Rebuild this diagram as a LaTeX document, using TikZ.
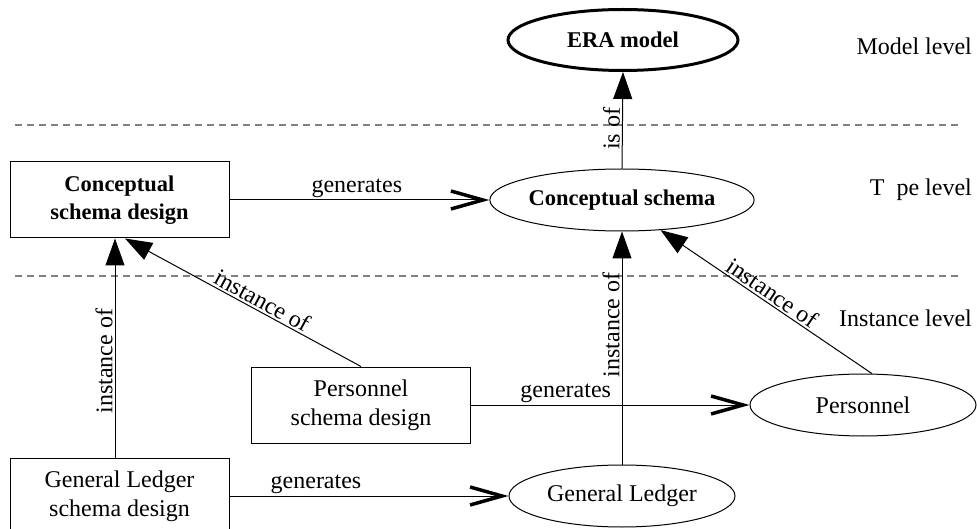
\documentclass[tikz,border=0pt]{standalone}
\usepackage{fontspec}
\setmainfont{Liberation Serif}
\usetikzlibrary{shapes.geometric,arrows.meta,calc}
\begin{document}
\begin{tikzpicture}[x=1pt,y=-1pt,
  every node/.style={font=\fontsize{24}{29}\selectfont},
  bold/.style={font=\fontsize{22.5}{28}\selectfont\bfseries},
  box/.style={draw,line width=1pt,minimum width=219pt,minimum height=76pt,align=center,inner sep=0pt},
  oval/.style={draw,ellipse,line width=1pt,minimum width=226pt,minimum height=62pt,inner sep=0pt},
  inst/.style={line width=1pt,-{Triangle[length=27pt,width=19pt]}},
  gen/.style={line width=1pt,-{Straight Barb[length=32pt,width=18pt,line width=3.5pt]}},
  level/.style={anchor=east,inner sep=0pt},
  sep/.style={draw=gray,dash pattern=on 7pt off 5pt,line width=1.2pt},
  lab/.style={sloped,above,inner sep=2pt}]
\useasboundingbox (0,0) rectangle (977,529);

% level separators
\coordinate (s1a) at (15,125);
\coordinate (s1b) at (960,125);
\coordinate (s2a) at (15,276);
\coordinate (s2b) at (960,276);
\draw[sep] (s1a) -- (s1b);
\draw[sep] (s2a) -- (s2b);

% level names
\node[level] (ml) at (972,46) {Model level};
\node[level] (tl) at (972,190) {T\hspace{0.5em}pe level};
\node[level] (il) at (972,318) {Instance level};

% model level
\node[oval,bold,line width=3pt,minimum width=230pt,minimum height=61pt] (era) at (623,40) {ERA model};

% type level
\node[box,bold] (csd) at (119.5,200) {Conceptual\\schema design};
\node[oval,bold] (cs) at (622,200) {Conceptual schema};

% instance level
\node[box] (psd) at (361,405) {Personnel\\schema design};
\node[oval] (pe) at (863,405) {Personnel};
\node[box] (glsd) at (119.5,496) {General Ledger\\schema design};
\node[oval] (gl) at (622,496) {General Ledger};

% connectors
\draw[inst] (cs.north) -- node[lab,pos=0.41] {is of} (era.south);
\draw[gen] (csd.east) -- node[lab,pos=0.49] {generates} (cs.west);
\draw[inst] ($(glsd.north)+(-4.5,0)$) -- node[lab,pos=0.44] {instance of} ($(csd.south)+(-4.5,0)$);
\draw[inst] (psd.north) -- node[lab,pos=0.44] {instance of} ($(csd.south)+(5.5,0)$);
\draw[inst] (gl.north) -- node[lab,pos=0.6] {instance of} (cs.south);
\draw[inst] (pe.74) -- node[lab,pos=0.5] {instance of} (cs.-38);
\draw[gen] (psd.east) -- node[lab,pos=0.34] {generates} (pe.west);
\draw[gen] (glsd.east) -- node[lab,pos=0.31] {generates} (gl.west);
\end{tikzpicture}
\end{document}
